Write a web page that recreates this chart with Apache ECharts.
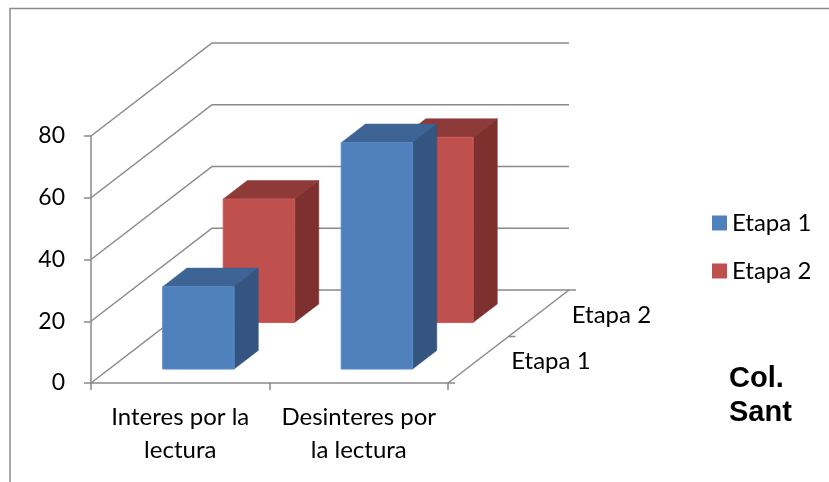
<!DOCTYPE html>
<html>
<head>
<meta charset="utf-8">
<script src="https://cdn.jsdelivr.net/npm/echarts@6/dist/echarts.min.js"></script>
<style>
html,body{margin:0;padding:0;background:#fff;}
#chart{width:829px;height:482px;}
</style>
</head>
<body>
<div id="chart"></div>
<script>
const categories = ['Interes por la\nlectura', 'Desinteres por\nla lectura'];
const seriesNames = ['Etapa 1', 'Etapa 2'];
const etapa1 = [26.67, 73.33];
const etapa2 = [40, 60];
const yTicks = [0, 20, 40, 60, 80];
const depthTicks = [0, 0.5, 1];

const DX = 121, DY = -93;          // oblique projection of the full depth
const GRID_COLOR = '#898989';
const FONT = 'Lato';

const colors = [
  { front: '#4F81BD', top: '#3D6494', side: '#33557F', edge: '#5B8CC6' },
  { front: '#C0504D', top: '#8E3A38', side: '#7D302E', edge: '#C85C59' }
];

function barRenderer(row) {
  const c = colors[row];
  return function (params, api) {
    const ci = api.value(0), v = api.value(1);
    const base = api.coord([ci, 0]);
    const top = api.coord([ci, v]);
    const band = api.size([1, 0])[0];
    const w = band * 0.4;
    const f0 = row * 0.5 + 0.15, f1 = f0 + 0.2;
    const cx = base[0] + f0 * DX;
    const xL = cx - w / 2, xR = cx + w / 2;
    const yB = base[1] + f0 * DY, yT = top[1] + f0 * DY;
    const ox = (f1 - f0) * DX, oy = (f1 - f0) * DY;
    return {
      type: 'group',
      children: [
        { type: 'polygon', shape: { points: [[xL, yT], [xL + ox, yT + oy], [xR + ox, yT + oy], [xR, yT]] },
          style: { fill: c.top, stroke: c.top, lineWidth: 0.5 } },
        { type: 'polygon', shape: { points: [[xR, yT], [xR + ox, yT + oy], [xR + ox, yB + oy], [xR, yB]] },
          style: { fill: c.side, stroke: c.side, lineWidth: 0.5 } },
        { type: 'polygon', shape: { points: [[xL, yT], [xR, yT], [xR, yB], [xL, yB]] },
          style: { fill: c.front, stroke: c.edge, lineWidth: 1 } }
      ]
    };
  };
}

const chart = echarts.init(document.getElementById('chart'), null, { renderer: 'canvas' });

chart.setOption({
  animation: false,
  backgroundColor: '#ffffff',
  graphic: [{
    type: 'rect', silent: true, z: -10,
    shape: { x: 10, y: 8.5, width: 900, height: 600 },
    style: { fill: 'none', stroke: '#8c8c8c', lineWidth: 1.5 }
  }],
  title: {
    text: 'Col.\nSant',
    left: 729, top: 362, padding: 0,
    textStyle: { fontFamily: 'Liberation Sans', fontWeight: 'bold', fontSize: 29, lineHeight: 34, color: '#000' }
  },
  legend: {
    data: seriesNames,
    orient: 'vertical',
    left: 712, top: 211,
    icon: 'rect',
    itemWidth: 15, itemHeight: 15, itemGap: 24,
    padding: 0,
    textStyle: { fontFamily: FONT, fontSize: 24, color: '#000' }
  },
  grid: { left: 91, top: 136, width: 357, height: 247, containLabel: false },
  xAxis: {
    type: 'category',
    data: categories,
    axisLine: { show: true, lineStyle: { color: GRID_COLOR, width: 1.5 } },
    axisTick: { show: true, length: 7, lineStyle: { color: GRID_COLOR, width: 1.5 } },
    axisLabel: { interval: 0, margin: 18, fontFamily: FONT, fontSize: 24, lineHeight: 33, color: '#000' },
    splitLine: { show: false }
  },
  yAxis: {
    type: 'value',
    min: 0, max: 80, interval: 20,
    axisLine: { show: true, lineStyle: { color: GRID_COLOR, width: 1.5 } },
    axisTick: { show: true, length: 7, lineStyle: { color: GRID_COLOR, width: 1.5 } },
    axisLabel: { margin: 26, fontFamily: FONT, fontSize: 23, color: '#000' },
    splitLine: { show: false }
  },
  series: [
    {
      type: 'custom', name: 'walls', silent: true,
      data: yTicks.map(v => [0, v]),
      encode: { x: 0, y: 1 },
      renderItem: function (params, api) {
        const cs = params.coordSys;
        const y = api.coord([0, api.value(1)])[1];
        const x0 = cs.x, x1 = cs.x + cs.width;
        return {
          type: 'polyline',
          shape: { points: [[x0, y], [x0 + DX, y + DY], [x1 + DX, y + DY]] },
          style: { fill: null, stroke: GRID_COLOR, lineWidth: 1.5 }
        };
      }
    },
    {
      type: 'custom', name: 'floor', silent: true,
      data: depthTicks.map(f => [0, 0, f]),
      encode: { x: 0, y: 1 },
      renderItem: function (params, api) {
        const cs = params.coordSys;
        const f = api.value(2);
        const y0 = api.coord([0, 0])[1];
        const x1 = cs.x + cs.width;
        const px = x1 + f * DX, py = y0 + f * DY;
        const children = [{
          type: 'line', shape: { x1: px, y1: py, x2: px + 7, y2: py },
          style: { stroke: GRID_COLOR, lineWidth: 1.5 }
        }];
        if (f === 0) {
          children.push({
            type: 'line', shape: { x1: x1, y1: y0, x2: x1 + DX, y2: y0 + DY },
            style: { stroke: GRID_COLOR, lineWidth: 1.5 }
          });
        }
        return { type: 'group', children: children };
      }
    },
    {
      type: 'custom', name: 'depthLabels', silent: true,
      data: seriesNames.map((n, i) => [0, 0, i]),
      encode: { x: 0, y: 1 },
      renderItem: function (params, api) {
        const cs = params.coordSys;
        const row = api.value(2);
        const f = row * 0.5 + 0.25;
        const y0 = api.coord([0, 0])[1];
        const x1 = cs.x + cs.width;
        return {
          type: 'text',
          style: {
            x: x1 + f * DX + 33, y: y0 + f * DY + 2,
            text: seriesNames[row],
            fontFamily: FONT, fontSize: 24, fill: '#000',
            align: 'left', verticalAlign: 'middle'
          }
        };
      }
    },
    {
      type: 'custom', name: seriesNames[1],
      itemStyle: { color: colors[1].front },
      data: etapa2.map((v, i) => [i, v]),
      encode: { x: 0, y: 1 },
      renderItem: barRenderer(1)
    },
    {
      type: 'custom', name: seriesNames[0],
      itemStyle: { color: colors[0].front },
      data: etapa1.map((v, i) => [i, v]),
      encode: { x: 0, y: 1 },
      renderItem: barRenderer(0)
    }
  ]
});
</script>
</body>
</html>
